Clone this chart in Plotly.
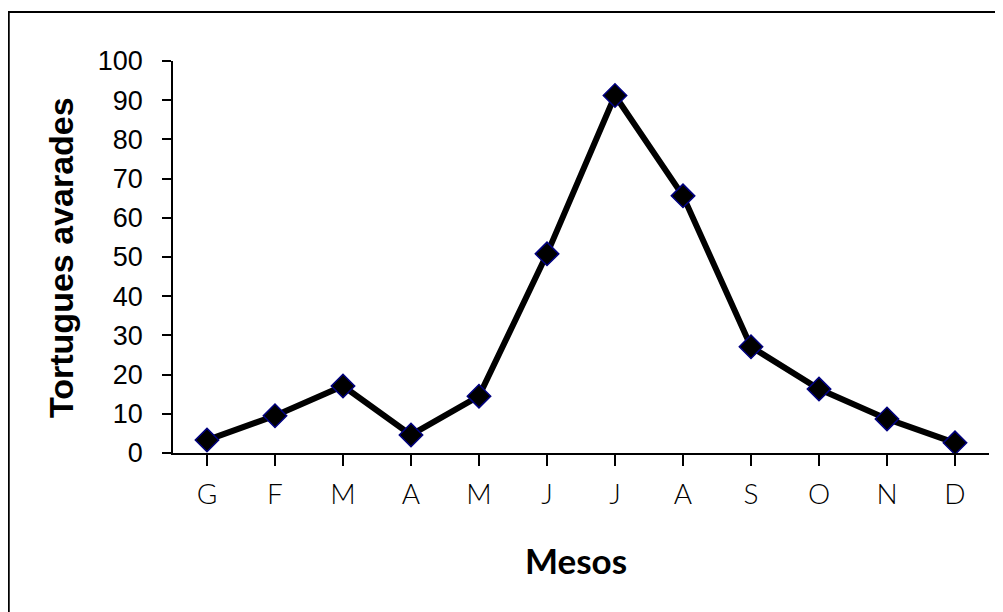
import plotly.graph_objects as go

months = ["G", "F", "M", "A", "M", "J", "J", "A", "S", "O", "N", "D"]
values = [3.3, 9.5, 17.1, 4.6, 14.5, 50.8, 91.2, 65.6, 27.1, 16.3, 8.7, 2.6]
y_ticks = [0, 10, 20, 30, 40, 50, 60, 70, 80, 90, 100]
y_title = "Tortugues avarades"
x_title = "Mesos"

x_idx = list(range(len(months)))

fig = go.Figure()
fig.add_trace(go.Scatter(
    x=x_idx, y=values, mode="lines+markers",
    line=dict(color="black", width=6),
    marker=dict(symbol="diamond", size=18, color="black",
                line=dict(color="#000080", width=1.5)),
    showlegend=False, cliponaxis=False,
))

fig.update_layout(
    width=995, height=604,
    margin=dict(l=165, r=14, t=53, b=159),
    paper_bgcolor="white", plot_bgcolor="white",
    xaxis=dict(
        range=[-0.5, 11.5], tickmode="array", tickvals=x_idx, ticktext=months,
        tickson="boundaries",
        showgrid=False, zeroline=False, showline=True, linecolor="black", linewidth=1.5,
        ticks="outside", ticklen=11, tickwidth=1.5, tickcolor="black",
        tickfont=dict(family="Lato", size=28, color="black", weight=300),
        ticklabelstandoff=5, fixedrange=True,
    ),
    yaxis=dict(
        range=[0, 100], tickmode="array", tickvals=y_ticks,
        showgrid=False, zeroline=False, showline=True, linecolor="black", linewidth=1.5,
        ticks="outside", ticklen=9, tickwidth=1.5, tickcolor="black",
        tickfont=dict(family="Liberation Sans", size=27, color="black"),
        ticklabelstandoff=14, fixedrange=True,
    ),
    annotations=[
        dict(text=y_title, xref="paper", yref="paper", x=-0.1373, y=0.5,
             xanchor="center", yanchor="middle", textangle=-90, showarrow=False,
             font=dict(family="Liberation Sans", size=34, color="black", weight="bold")),
        dict(text=x_title, xref="paper", yref="paper", x=0.4939, y=-0.273,
             xanchor="center", yanchor="middle", showarrow=False,
             font=dict(family="Lato", size=35, color="black", weight="bold")),
    ],
    shapes=[
        dict(type="rect", xref="paper", yref="paper",
             x0=-0.2013, y0=-0.426, x1=1.0257, y1=1.125,
             line=dict(color="black", width=2), fillcolor="rgba(0,0,0,0)", layer="below"),
    ],
)

fig.write_html("out.html")
